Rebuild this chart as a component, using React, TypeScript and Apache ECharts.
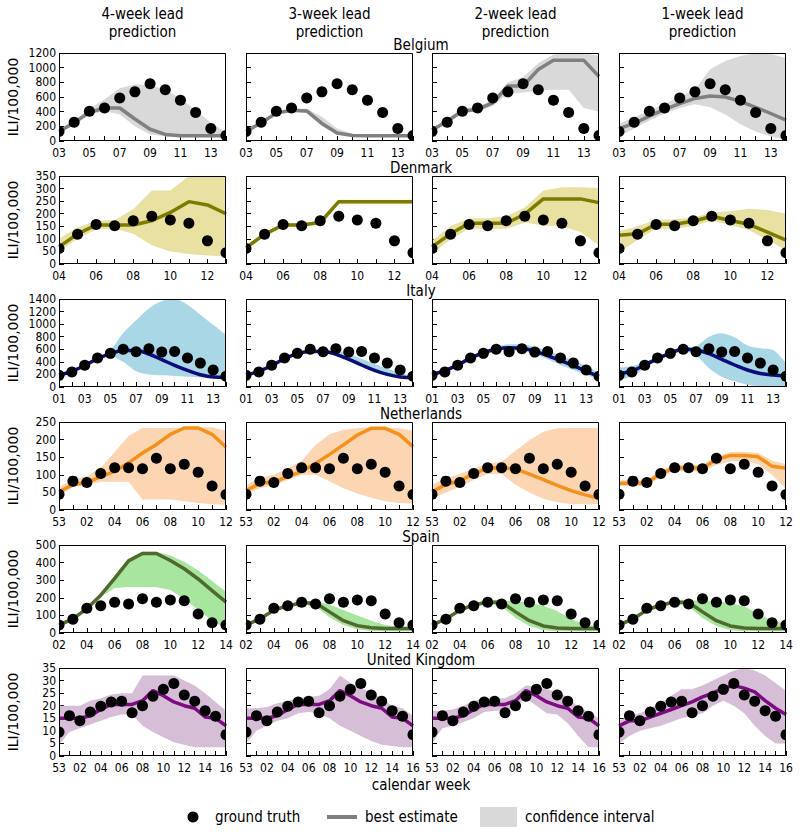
import React, { useEffect, useRef } from "react";
import * as echarts from "echarts";

const FONT = "'DejaVu Sans Condensed', 'DejaVu Sans', sans-serif";

const COLUMN_TITLES = ["4-week lead", "3-week lead", "2-week lead", "1-week lead"];
const COLUMN_SUBTITLE = "prediction";

// ---------- Belgium ----------
const BE_WEEKS = ["03", "04", "05", "06", "07", "08", "09", "10", "11", "12", "13", "14"];
const BE_TRUTH = [130, 255, 405, 450, 585, 670, 780, 700, 555, 390, 170, 75];
const BE_EST_4 = [130, 250, 390, 450, 450, 300, 160, 90, 70, 70, 70, 70];
const BE_LO_4 = [110, 220, 360, 410, 360, 200, 90, 65, 60, 55, 55, 55];
const BE_HI_4 = [150, 280, 440, 570, 720, 770, 760, 700, 580, 420, 250, 120];
const BE_EST_3 = [130, 250, 380, 420, 410, 240, 110, 75, 70, 70, 70, 70];
const BE_LO_3 = [115, 230, 360, 400, 380, 200, 90, 65, 60, 60, 60, 60];
const BE_HI_3 = [150, 275, 400, 440, 440, 330, 170, 100, 80, 80, 80, 80];
const BE_EST_2 = [150, 270, 410, 430, 520, 750, 750, 975, 1100, 1100, 1100, 880];
const BE_LO_2 = [130, 245, 385, 400, 480, 640, 660, 690, 700, 700, 450, 400];
const BE_HI_2 = [175, 295, 440, 470, 560, 800, 870, 1060, 1180, 1200, 1200, 1160];
const BE_EST_1 = [170, 240, 340, 430, 510, 580, 615, 600, 540, 460, 375, 285];
const BE_LO_1 = [60, 170, 280, 370, 450, 500, 460, 360, 230, 130, 60, 20];
const BE_HI_1 = [240, 320, 420, 500, 610, 700, 980, 1090, 1160, 1200, 1190, 1130];

// ---------- Denmark ----------
const DK_WEEKS = ["04", "05", "06", "07", "08", "09", "10", "11", "12", "13"];
const DK_TRUTH = [62, 118, 157, 152, 172, 190, 175, 162, 92, 45];
const DK_EST_4 = [68, 120, 155, 155, 155, 172, 205, 248, 235, 200];
const DK_LO_4 = [50, 100, 138, 140, 120, 75, 50, 40, 34, 30];
const DK_HI_4 = [100, 145, 172, 175, 218, 292, 292, 350, 350, 350];
const DK_EST_3 = [65, 118, 155, 155, 165, 248, 248, 248, 248, 248];
const DK_LO_3 = [58, 111, 148, 148, 158, 240, 240, 240, 240, 240];
const DK_HI_3 = [72, 125, 162, 162, 172, 256, 256, 256, 256, 256];
const DK_EST_2 = [68, 120, 162, 162, 162, 198, 259, 259, 259, 244];
const DK_LO_2 = [42, 98, 140, 140, 140, 165, 152, 150, 127, 75];
const DK_HI_2 = [92, 150, 182, 182, 190, 225, 292, 305, 305, 302];
const DK_EST_1 = [114, 120, 158, 158, 170, 190, 173, 158, 127, 95];
const DK_LO_1 = [45, 95, 140, 140, 150, 172, 155, 135, 95, 55];
const DK_HI_1 = [130, 150, 175, 178, 185, 205, 210, 220, 215, 200];

// ---------- Italy ----------
const IT_WEEKS = ["01", "02", "03", "04", "05", "06", "07", "08", "09", "10", "11", "12", "13", "14"];
const IT_TRUTH = [185, 240, 345, 460, 535, 600, 560, 610, 555, 565, 460, 380, 270, 170];
const IT_EST_4 = [190, 250, 340, 450, 530, 580, 580, 525, 435, 345, 265, 195, 158, 153];
const IT_LO_4 = [170, 230, 320, 430, 490, 400, 250, 200, 185, 175, 165, 155, 140, 130];
const IT_HI_4 = [210, 270, 360, 470, 590, 860, 1060, 1250, 1370, 1400, 1310, 1150, 990, 830];
const IT_EST_3 = [190, 250, 340, 450, 530, 565, 565, 520, 440, 350, 265, 200, 160, 150];
const IT_LO_3 = [175, 235, 325, 435, 510, 545, 545, 500, 420, 330, 245, 185, 145, 135];
const IT_HI_3 = [205, 265, 355, 465, 550, 590, 600, 580, 530, 450, 370, 290, 220, 175];
const IT_EST_2 = [200, 260, 350, 460, 545, 600, 625, 615, 570, 500, 420, 340, 250, 170];
const IT_LO_2 = [185, 240, 330, 440, 520, 575, 590, 570, 520, 440, 350, 270, 190, 130];
const IT_HI_2 = [220, 280, 375, 485, 575, 640, 680, 680, 640, 580, 500, 420, 330, 230];
const IT_EST_1 = [210, 255, 350, 450, 540, 600, 590, 530, 440, 350, 270, 215, 190, 175];
const IT_LO_1 = [110, 170, 300, 420, 510, 570, 500, 300, 165, 90, 37, 15, 12, 12];
const IT_HI_1 = [310, 330, 400, 480, 570, 630, 650, 800, 855, 790, 660, 615, 590, 380];

// ---------- Netherlands ----------
const NL_WEEKS = ["53", "01", "02", "03", "04", "05", "06", "07", "08", "09", "10", "11", "12"];
const NL_TRUTH = [45, 82, 78, 104, 120, 120, 117, 147, 117, 130, 107, 68, 44];
const NL_EST_4 = [52, 72, 78, 95, 110, 134, 162, 186, 215, 233, 233, 215, 178];
const NL_LO_4 = [40, 65, 72, 80, 80, 80, 30, 30, 30, 25, 20, 16, 15];
const NL_HI_4 = [65, 86, 96, 120, 165, 210, 233, 233, 233, 233, 235, 235, 225];
const NL_EST_3 = [55, 75, 80, 95, 110, 132, 158, 185, 213, 232, 232, 215, 180];
const NL_LO_3 = [45, 62, 70, 85, 100, 100, 82, 62, 47, 35, 25, 20, 18];
const NL_HI_3 = [70, 92, 100, 118, 140, 185, 215, 228, 232, 235, 235, 232, 225];
const NL_EST_2 = [52, 72, 83, 103, 119, 120, 117, 102, 86, 70, 55, 43, 33];
const NL_LO_2 = [32, 50, 65, 85, 102, 102, 72, 50, 32, 22, 17, 16, 16];
const NL_HI_2 = [72, 90, 102, 118, 132, 137, 168, 198, 222, 232, 233, 233, 233];
const NL_EST_1 = [76, 76, 76, 105, 119, 119, 119, 143, 155, 155, 151, 124, 119];
const NL_LO_1 = [68, 68, 68, 96, 110, 110, 110, 128, 138, 140, 130, 100, 60];
const NL_HI_1 = [84, 85, 86, 113, 128, 128, 128, 152, 165, 165, 162, 140, 130];

// ---------- Spain ----------
const ES_WEEKS = ["02", "03", "04", "05", "06", "07", "08", "09", "10", "11", "12", "13", "14"];
const ES_TRUTH = [45, 78, 140, 155, 175, 165, 195, 175, 187, 183, 108, 58, 45];
const ES_EST_4 = [45, 80, 138, 215, 310, 410, 452, 452, 412, 365, 307, 241, 175];
const ES_LO_4 = [40, 72, 130, 205, 255, 262, 262, 260, 245, 195, 130, 70, 25];
const ES_HI_4 = [52, 88, 148, 225, 325, 420, 462, 462, 440, 405, 355, 295, 235];
const ES_EST_3 = [45, 80, 130, 155, 170, 170, 120, 70, 42, 30, 25, 25, 25];
const ES_LO_3 = [40, 72, 122, 148, 160, 150, 90, 45, 22, 12, 10, 10, 10];
const ES_HI_3 = [55, 90, 142, 165, 182, 182, 160, 130, 100, 70, 45, 35, 35];
const ES_EST_2 = [45, 80, 130, 160, 175, 175, 120, 70, 40, 28, 25, 25, 25];
const ES_LO_2 = [40, 72, 122, 150, 165, 150, 85, 40, 15, 10, 10, 10, 10];
const ES_HI_2 = [55, 90, 142, 170, 185, 185, 180, 170, 155, 125, 80, 45, 40];
const ES_EST_1 = [45, 80, 130, 160, 175, 175, 120, 70, 40, 28, 25, 25, 25];
const ES_LO_1 = [40, 72, 122, 150, 165, 150, 85, 40, 15, 10, 10, 10, 10];
const ES_HI_1 = [55, 90, 142, 170, 185, 185, 185, 180, 170, 150, 110, 70, 55];

// ---------- United Kingdom ----------
const UK_WEEKS = ["53", "01", "02", "03", "04", "05", "06", "07", "08", "09", "10", "11", "12", "13", "14", "15", "16"];
const UK_TRUTH = [9.5, 16, 14, 17.5, 19.8, 21.5, 21.8, 17.2, 20, 23.8, 26.5, 28.8, 24.3, 21.8, 18, 15.8, 8.5];
const UK_EST_4 = [15, 15, 15, 16, 18.5, 20.5, 20.5, 20.5, 22, 26, 24, 21.5, 20, 19, 15.5, 15, 12];
const UK_LO_4 = [4.5, 9.5, 11, 12.5, 14, 15.5, 16.5, 16.5, 12, 9.5, 7.5, 5.5, 4.5, 3.5, 3.5, 3.5, 3.5];
const UK_HI_4 = [20, 20, 20, 22, 23, 24.5, 25, 25, 32, 32, 32, 32, 30, 28, 25, 21.5, 18];
const UK_EST_3 = [15, 15, 15, 16, 18.5, 20.5, 20.5, 20.5, 22, 26, 24, 21.5, 20, 19, 15.5, 15, 12];
const UK_LO_3 = [5, 10, 12, 14, 15, 17, 17.5, 17, 15, 12, 10, 8, 6, 4.5, 4, 3.5, 3.5];
const UK_HI_3 = [19, 19, 19.5, 21, 22, 23, 23.5, 24, 26.5, 32, 29, 27, 25, 23, 20, 19, 16];
const UK_EST_2 = [15, 15, 15, 16, 18.5, 20.5, 20.5, 20.5, 22, 26, 24, 21.5, 20, 19, 15.5, 15, 12];
const UK_LO_2 = [5, 11, 12, 13.5, 15, 17.5, 18, 18, 19.5, 23, 20, 17, 16.5, 13, 8, 3.5, 3.5];
const UK_HI_2 = [18, 18, 18.5, 20, 22, 23, 23, 23, 25, 28, 27.5, 26.5, 25.5, 23.5, 19.5, 17.5, 15];
const UK_EST_1 = [12, 14, 14, 15.5, 17, 18.5, 20, 21.5, 23.5, 25, 27, 28, 27, 25.5, 22, 19, 16.5];
const UK_LO_1 = [5, 8, 10, 11, 12, 13.5, 15, 16, 17, 20, 22, 20, 17, 12, 8, 5, 5];
const UK_HI_1 = [14, 16, 17, 19, 21, 24, 26.5, 26.5, 28, 30, 32, 34, 35, 34, 32, 29, 26];

const ROWS = [
  { name: "Belgium", weeks: BE_WEEKS, truth: BE_TRUTH, est: [BE_EST_4, BE_EST_3, BE_EST_2, BE_EST_1], lo: [BE_LO_4, BE_LO_3, BE_LO_2, BE_LO_1], hi: [BE_HI_4, BE_HI_3, BE_HI_2, BE_HI_1], max: 1200, step: 200, line: "#808080", band: "#d9d9d9", smooth: false },
  { name: "Denmark", weeks: DK_WEEKS, truth: DK_TRUTH, est: [DK_EST_4, DK_EST_3, DK_EST_2, DK_EST_1], lo: [DK_LO_4, DK_LO_3, DK_LO_2, DK_LO_1], hi: [DK_HI_4, DK_HI_3, DK_HI_2, DK_HI_1], max: 350, step: 50, line: "#7b7b00", band: "#e9e1a2", smooth: false },
  { name: "Italy", weeks: IT_WEEKS, truth: IT_TRUTH, est: [IT_EST_4, IT_EST_3, IT_EST_2, IT_EST_1], lo: [IT_LO_4, IT_LO_3, IT_LO_2, IT_LO_1], hi: [IT_HI_4, IT_HI_3, IT_HI_2, IT_HI_1], max: 1400, step: 200, line: "#0c0c7a", band: "#a9d7e6", smooth: true },
  { name: "Netherlands", weeks: NL_WEEKS, truth: NL_TRUTH, est: [NL_EST_4, NL_EST_3, NL_EST_2, NL_EST_1], lo: [NL_LO_4, NL_LO_3, NL_LO_2, NL_LO_1], hi: [NL_HI_4, NL_HI_3, NL_HI_2, NL_HI_1], max: 250, step: 50, line: "#f5901c", band: "#fcd5b3", smooth: false },
  { name: "Spain", weeks: ES_WEEKS, truth: ES_TRUTH, est: [ES_EST_4, ES_EST_3, ES_EST_2, ES_EST_1], lo: [ES_LO_4, ES_LO_3, ES_LO_2, ES_LO_1], hi: [ES_HI_4, ES_HI_3, ES_HI_2, ES_HI_1], max: 500, step: 100, line: "#4f6a2c", band: "#a8e6a0", smooth: false },
  { name: "United Kingdom", weeks: UK_WEEKS, truth: UK_TRUTH, est: [UK_EST_4, UK_EST_3, UK_EST_2, UK_EST_1], lo: [UK_LO_4, UK_LO_3, UK_LO_2, UK_LO_1], hi: [UK_HI_4, UK_HI_3, UK_HI_2, UK_HI_1], max: 35, step: 5, line: "#7d0c80", band: "#d6bed7", smooth: false },
];

const LEFTS = [59, 246, 432, 619];
const TOPS = [53, 176, 299, 422, 545, 668];
const W = 167;
const H = 88;

function buildOption() {
  const grid: any[] = [];
  const xAxis: any[] = [];
  const yAxis: any[] = [];
  const series: any[] = [];
  const graphic: any[] = [];

  COLUMN_TITLES.forEach((t, c) => {
    graphic.push({
      type: "text", x: LEFTS[c] + W / 2, y: 14, z: 50,
      style: { text: t, align: "center", verticalAlign: "middle", fontSize: 15, fontFamily: FONT, fill: "#000" },
    });
    graphic.push({
      type: "text", x: LEFTS[c] + W / 2, y: 32, z: 50,
      style: { text: COLUMN_SUBTITLE, align: "center", verticalAlign: "middle", fontSize: 15, fontFamily: FONT, fill: "#000" },
    });
  });

  ROWS.forEach((row, r) => {
    graphic.push({
      type: "text", x: 421, y: TOPS[r] - 8, z: 50,
      style: { text: row.name, align: "center", verticalAlign: "middle", fontSize: 15, fontFamily: FONT, fill: "#000" },
    });
    graphic.push({
      type: "text", x: 13, y: TOPS[r] + H / 2, rotation: Math.PI / 2, z: 50,
      style: { text: "ILI/100,000", align: "center", verticalAlign: "middle", fontSize: 14, fontFamily: "'DejaVu Sans', sans-serif", fill: "#000" },
    });
    for (let c = 0; c < 4; c++) {
      const gi = r * 4 + c;
      grid.push({ left: LEFTS[c], top: TOPS[r], width: W, height: H, show: false });
      xAxis.push({
        type: "category", gridIndex: gi, data: row.weeks, boundaryGap: false,
        axisLine: { show: false },
        axisTick: { show: true, inside: true, length: 5, interval: 0, lineStyle: { color: "#000", width: 1 } },
        axisLabel: { interval: 0, color: "#000", fontSize: 12, margin: 6, fontFamily: FONT, formatter: (v: string, i: number) => (i % 2 === 0 ? v : "") },
        splitLine: { show: false },
      });
      yAxis.push({
        type: "value", gridIndex: gi, min: 0, max: row.max, interval: row.step,
        axisLine: { show: false },
        axisTick: { show: true, inside: true, length: 5, lineStyle: { color: "#000", width: 1 } },
        axisLabel: { show: c === 0, color: "#000", fontSize: 12, margin: 3, fontFamily: FONT, formatter: (v: number) => String(v) },
        splitLine: { show: false },
      });
      const lo = row.lo[c];
      const hi = row.hi[c];
      series.push({
        type: "line", xAxisIndex: gi, yAxisIndex: gi, stack: "ci" + gi, data: lo,
        symbol: "none", silent: true, lineStyle: { width: 0, opacity: 0 }, smooth: row.smooth ? 0.3 : false, z: 1,
      });
      series.push({
        type: "line", xAxisIndex: gi, yAxisIndex: gi, stack: "ci" + gi, data: hi.map((h, i) => h - lo[i]),
        symbol: "none", silent: true, lineStyle: { width: 0, opacity: 0 }, smooth: row.smooth ? 0.3 : false,
        areaStyle: { color: row.band, opacity: 1 }, z: 1,
      });
      series.push({
        type: "line", xAxisIndex: gi, yAxisIndex: gi, data: row.est[c],
        symbol: "none", silent: true, smooth: row.smooth ? 0.4 : false,
        lineStyle: { color: row.line, width: 3.5 }, z: 2,
      });
      series.push({
        type: "custom", xAxisIndex: gi, yAxisIndex: gi, clip: true, silent: true, z: 3,
        data: row.truth.map((v, i) => [i, v]),
        encode: { x: 0, y: 1 },
        renderItem: (params: any, api: any) => {
          const p = api.coord([api.value(0), api.value(1)]);
          return { type: "circle", shape: { cx: p[0], cy: p[1], r: 5.5 }, style: { fill: "#000" } };
        },
      });
      graphic.push({
        type: "rect", z: 40, silent: true,
        shape: { x: LEFTS[c] + 0.5, y: TOPS[r] + 0.5, width: W - 1, height: H - 1 },
        style: { fill: "none", stroke: "#000", lineWidth: 1 },
      });
    }
  });

  graphic.push({
    type: "text", x: 421, y: 785, z: 50,
    style: { text: "calendar week", align: "center", verticalAlign: "middle", fontSize: 15, fontFamily: FONT, fill: "#000" },
  });
  // legend
  graphic.push({ type: "circle", z: 50, shape: { cx: 193, cy: 817, r: 5.5 }, style: { fill: "#000" } });
  graphic.push({ type: "text", x: 215, y: 817, z: 50, style: { text: "ground truth", align: "left", verticalAlign: "middle", fontSize: 15, fontFamily: FONT, fill: "#000" } });
  graphic.push({ type: "rect", z: 50, shape: { x: 327, y: 815, width: 30, height: 4 }, style: { fill: "#808080" } });
  graphic.push({ type: "text", x: 365, y: 817, z: 50, style: { text: "best estimate", align: "left", verticalAlign: "middle", fontSize: 15, fontFamily: FONT, fill: "#000" } });
  graphic.push({ type: "rect", z: 50, shape: { x: 480, y: 807, width: 37, height: 20 }, style: { fill: "#d9d9d9" } });
  graphic.push({ type: "text", x: 525, y: 817, z: 50, style: { text: "confidence interval", align: "left", verticalAlign: "middle", fontSize: 15, fontFamily: FONT, fill: "#000" } });

  return {
    animation: false,
    backgroundColor: "#fff",
    textStyle: { fontFamily: FONT },
    grid, xAxis, yAxis, series, graphic,
  };
}

export default function App() {
  const ref = useRef<HTMLDivElement>(null);
  useEffect(() => {
    if (!ref.current) return;
    const chart = echarts.init(ref.current, null, { renderer: "svg" });
    chart.setOption(buildOption() as any);
    return () => chart.dispose();
  }, []);
  return <div ref={ref} style={{ position: "absolute", left: 0, top: 0, width: 800, height: 839 }} />;
}
